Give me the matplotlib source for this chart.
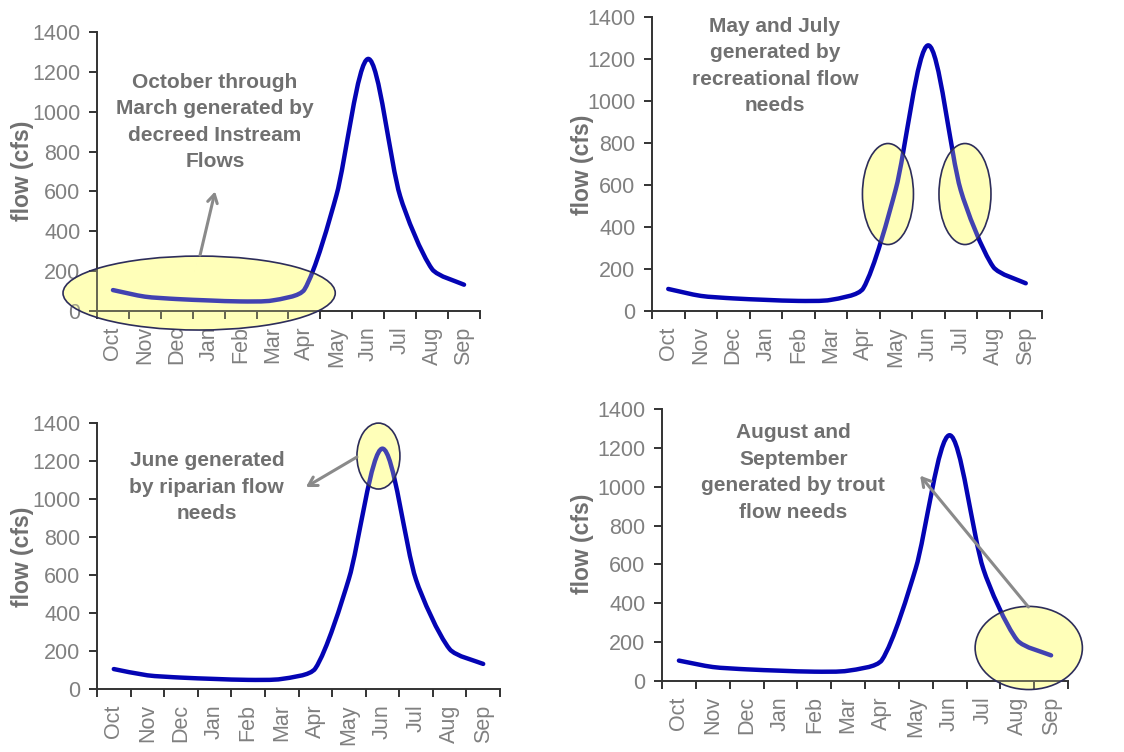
import numpy as np
import matplotlib
matplotlib.use("Agg")
import matplotlib.pyplot as plt
from matplotlib.path import Path
from matplotlib.patches import PathPatch, Ellipse

plt.rcParams['font.family'] = ['Liberation Sans', 'DejaVu Sans']

months = ['Oct', 'Nov', 'Dec', 'Jan', 'Feb', 'Mar', 'Apr', 'May', 'Jun', 'Jul', 'Aug', 'Sep']
flow = [105, 72, 60, 53, 48, 53, 108, 580, 1265, 575, 210, 132]
yticks = [0, 200, 400, 600, 800, 1000, 1200, 1400]

W, H = 1124, 752
fig = plt.figure(figsize=(W / 100, H / 100), dpi=100)

LINE = '#0404b4'
TICKC = '#808080'
TEXTC = '#707070'
AXC = '#333333'


def px_axes(left, top, right, bottom):
    return fig.add_axes([left / W, 1 - bottom / H, (right - left) / W, (bottom - top) / H])


def smooth_path(ax, xs, ys):
    pos = ax.get_position()
    sx = pos.width * W / 12.0
    sy = pos.height * H / 1400.0
    P = np.column_stack([np.asarray(xs, float) * sx, np.asarray(ys, float) * sy])
    n = len(P)
    dirs = []
    for i in range(n):
        a = P[i - 1] if i > 0 else P[i]
        b = P[i + 1] if i < n - 1 else P[i]
        dirs.append(b - a)
    verts = [P[0]]
    codes = [Path.MOVETO]
    for i in range(n - 1):
        d = np.linalg.norm(P[i + 1] - P[i])
        out = []
        for t in (dirs[i], dirs[i + 1]):
            nt = np.linalg.norm(t)
            L = min(nt / 6, d / 4)
            out.append(t / nt * L if nt > 0 else t)
        verts += [P[i] + out[0], P[i + 1] - out[1], P[i + 1]]
        codes += [Path.CURVE4] * 3
    V = np.array(verts)
    V[:, 0] /= sx
    V[:, 1] /= sy
    return Path(V, codes)


def setup(ax):
    x = np.arange(len(months))
    ax.set_xlim(-0.5, 11.5)
    ax.set_ylim(0, 1400)
    for s in ['top', 'right']:
        ax.spines[s].set_visible(False)
    for s in ['left', 'bottom']:
        ax.spines[s].set_color(AXC)
        ax.spines[s].set_linewidth(1.4)
    ax.set_yticks(yticks)
    ax.set_yticklabels([str(v) for v in yticks])
    ax.set_xticks(np.arange(-0.5, 12, 1.0))
    ax.set_xticklabels([])
    ax.set_xticks(x, minor=True)
    ax.set_xticklabels(months, minor=True)
    ax.tick_params(axis='x', which='major', direction='out', length=6, width=1.4, color=AXC)
    ax.tick_params(axis='x', which='minor', length=0, pad=11, labelsize=15.5,
                   labelcolor=TICKC, labelrotation=90)
    ax.tick_params(axis='y', direction='out', length=6, width=1.4, color=AXC, pad=6,
                   labelsize=15.5, labelcolor=TICKC)
    patch = PathPatch(smooth_path(ax, x, flow), facecolor='none', edgecolor=LINE,
                      lw=3.2, capstyle='round', joinstyle='round', zorder=2, clip_on=False)
    ax.add_patch(patch)


def ellipse(ax, cx, cy, w, h):
    ax.add_patch(Ellipse((cx, cy), w, h, facecolor='#ffffbf', edgecolor='none',
                         zorder=1, clip_on=False))
    ax.add_patch(Ellipse((cx, cy), w, h, facecolor=(1, 1, 0.67, 0.25),
                         edgecolor='#2d2d5a', lw=1.2, zorder=3, clip_on=False))


def note(ax, x, y, s):
    ax.text(x, y, s, ha='center', va='center', fontsize=15, fontweight='bold',
            color=TEXTC, linespacing=1.5, zorder=4)


def arrow(ax, x0, y0, x1, y1):
    ax.annotate('', xy=(x1, y1), xytext=(x0, y0),
                arrowprops=dict(arrowstyle='->,head_length=0.6,head_width=0.35',
                                color='#8a8a8a', lw=2.2, shrinkA=0, shrinkB=0),
                annotation_clip=False, zorder=4)


def ylabel(xp, yp):
    fig.text(xp / W, 1 - yp / H, 'flow (cfs)', rotation=90, ha='center', va='center',
             fontsize=16.5, fontweight='bold', color=TEXTC)


# Panel 1
ax1 = px_axes(97, 32, 480, 311)
setup(ax1)
ellipse(ax1, 2.70, 90, 8.53, 371)
note(ax1, 3.2, 948, 'October through\nMarch generated by\ndecreed Instream\nFlows')
arrow(ax1, 2.73, 281, 3.2, 600)
ylabel(22, 171)

# Panel 2
ax2 = px_axes(652, 17, 1042, 311)
setup(ax2)
ellipse(ax2, 6.76, 557, 1.57, 481)
ellipse(ax2, 9.13, 557, 1.60, 481)
note(ax2, 3.28, 1167, 'May and July\ngenerated by\nrecreational flow\nneeds')
ylabel(582, 165)

# Panel 3
ax3 = px_axes(97, 423, 500, 689)
setup(ax3)
ellipse(ax3, 7.88, 1226, 1.28, 347)
note(ax3, 2.77, 1063, 'June generated\nby riparian flow\nneeds')
arrow(ax3, 7.24, 1221, 5.72, 1063)
ylabel(22, 557)

# Panel 4
ax4 = px_axes(662, 409, 1068, 681)
setup(ax4)
ellipse(ax4, 10.34, 170, 3.17, 428)
note(ax4, 3.38, 1072, 'August and\nSeptember\ngenerated by trout\nflow needs')
arrow(ax4, 10.33, 381, 7.13, 1057)
ylabel(582, 544)

fig.savefig('out.png', dpi=100)
